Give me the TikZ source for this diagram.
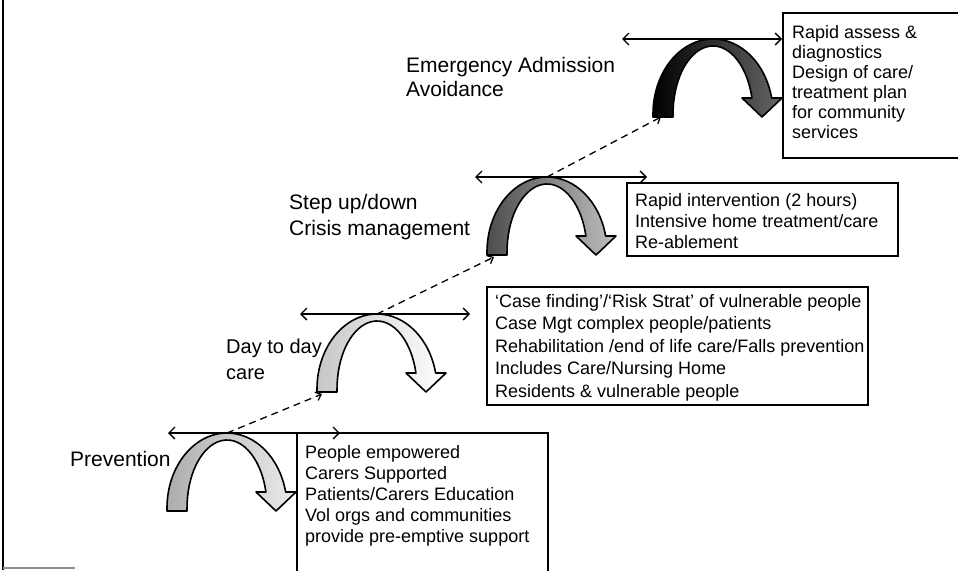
\documentclass[tikz,border=0pt]{standalone}
\usepackage{fontspec}
\setmainfont{Liberation Sans}
\usetikzlibrary{arrows.meta}
\newcommand{\curvedstep}[2]{%
  \begin{scope}[shift={(#1)}]
    \draw[curl,#2] (-60,78) -- (-60,75)
      arc[start angle=180, end angle=347.7, x radius=60, y radius=75]
      -- (69,59) -- (49,78) -- (29,59) -- (38.9,59)
      arc[start angle=346.4, end angle=180, x radius=40, y radius=68]
      -- (-40,78) -- cycle;
  \end{scope}}
\begin{document}
\begin{tikzpicture}[x=1pt,y=-1pt,
  hline/.style={line width=1.3pt, {Straight Barb[length=6pt,width=12pt]}-{Straight Barb[length=6pt,width=12pt]}},
  dashline/.style={line width=1.3pt, dash pattern=on 7pt off 5pt, -{Straight Barb[length=5pt,width=9pt]}},
  curl/.style={draw=black, line width=1.6pt, line join=round},
  boxtext/.style={anchor=north west, inner sep=0pt, align=left, font=\fontsize{18}{21}\selectfont},
  lbl/.style={anchor=north west, inner sep=0pt, align=left, font=\fontsize{21}{25}\selectfont},
  frame/.style={line width=1.2pt}
]
\useasboundingbox (0,0) rectangle (958,570);
% page border remnants
\draw[line width=2pt] (3,0) -- (3,570);
\draw[black!45, line width=1.5pt] (3,568) -- (75,568);

% step tops
\coordinate (T1) at (227,433);
\coordinate (T2) at (377,314);
\coordinate (T3) at (547,177);
\coordinate (T4) at (713,39);
% dashed line ends (feet)
\coordinate (F2) at (322,394);
\coordinate (F3) at (494,257);
\coordinate (F4) at (661,117);
% horizontal arrow ends
\coordinate (A1l) at (168,433); \coordinate (A1r) at (340,433);
\coordinate (A2l) at (300,314); \coordinate (A2r) at (470,314);
\coordinate (A3l) at (475,177); \coordinate (A3r) at (647,177);
\coordinate (A4l) at (622,39);  \coordinate (A4r) at (782,39);

% curved arrows
\curvedstep{T1}{left color=black!32, right color=black!8}
\curvedstep{T2}{left color=black!22, right color=white}
\curvedstep{T3}{left color=black!70, right color=black!25}
\curvedstep{T4}{left color=black, right color=black!60}

% dashed links
\draw[dashline] (T1) -- (F2);
\draw[dashline] (T2) -- (F3);
\draw[dashline] (T3) -- (F4);

% horizontal double arrows
\draw[hline] (A1l) -- (A1r);
\draw[hline] (A2l) -- (A2r);
\draw[hline] (A3l) -- (A3r);
\draw[hline] (A4l) -- (A4r);

% labels
\node[lbl] (l1) at (70,451) {Prevention};
\node[lbl, font=\fontsize{20}{26}\selectfont] (l2) at (226,339) {Day to day\\care};
\node[lbl, font=\fontsize{21}{26}\selectfont] (l3) at (289,194) {Step up/down\\Crisis management};
\node[lbl, font=\fontsize{21}{24}\selectfont] (l4) at (406,57) {Emergency Admission\\Avoidance};

% boxes
\node[boxtext] (b1) at (305,445) {People empowered\\Carers Supported\\Patients/Carers Education\\Vol orgs and communities\\provide pre-emptive support};
\draw[frame] (297,575) -- (297,433) -- (548,433) -- (548,575);

\node[boxtext, font=\fontsize{18}{22.5}\selectfont] (b2) at (495,294) {‘Case finding’/‘Risk Strat’ of vulnerable people\\Case Mgt complex people/patients\\Rehabilitation /end of life care/Falls prevention\\Includes Care/Nursing Home\\Residents \& vulnerable people};
\draw[frame] (487,287) rectangle (868,405);

\node[boxtext] (b3) at (635,193) {Rapid intervention (2 hours)\\Intensive home treatment/care\\Re-ablement};
\draw[frame] (627,183) rectangle (898,256);

\node[boxtext, font=\fontsize{18}{20}\selectfont] (b4) at (792,25) {Rapid assess \&\\diagnostics\\Design of care/\\treatment plan\\for community\\services};
\draw[frame] (965,13) -- (783,13) -- (783,158) -- (965,158);
\end{tikzpicture}
\end{document}
